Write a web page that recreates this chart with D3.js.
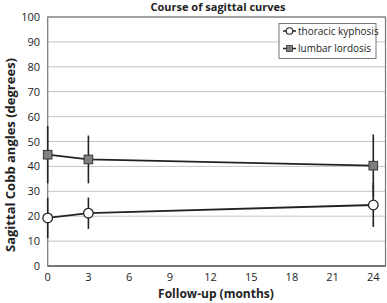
<!DOCTYPE html>
<html>
<head>
<meta charset="utf-8">
<script src="https://cdn.jsdelivr.net/npm/d3@7"></script>
<style>
body{margin:0;background:#fff;}
text{font-family:"Open Sans",sans-serif;fill:#222;}
</style>
</head>
<body>
<script>
// values
const months=[0,3,24];
const kyphosis=[19.3,21.2,24.5];
const kyphosisSd=[8.1,6.3,8.8];
const lordosis=[44.7,42.8,40.3];
const lordosisSd=[11.5,9.6,12.5];
const xTicks=[0,3,6,9,12,15,18,21,24];
const yTicks=[0,10,20,30,40,50,60,70,80,90,100];

const width=387,height=303;
const svg=d3.select('body').append('svg').attr('width',width).attr('height',height);

const x=d3.scaleLinear().domain([0,24.9]).range([47.7,385.5]);
const y=d3.scaleLinear().domain([0,100]).range([266,17]);

// grid
svg.append('g').selectAll('line').data(yTicks.filter(d=>d>0)).enter().append('line')
    .attr('x1',x(0)).attr('x2',x(24.9))
    .attr('y1',d=>y(d)).attr('y2',d=>y(d))
    .attr('stroke','#c4c4c4').attr('stroke-width',1);

// frame
svg.append('rect').attr('x',x(0)).attr('y',y(100))
    .attr('width',x(24.9)-x(0)).attr('height',y(0)-y(100))
    .attr('fill','none').attr('stroke','#777').attr('stroke-width',1.2);
svg.append('line').attr('x1',x(0)).attr('x2',x(24.9)).attr('y1',y(0)).attr('y2',y(0))
    .attr('stroke','#666').attr('stroke-width',1.3);

// tick labels
svg.append('g').selectAll('text').data(yTicks).enter().append('text')
    .attr('x',40).attr('y',d=>y(d)+4).attr('text-anchor','end')
    .style('font-size','11px').text(d=>d);
svg.append('g').selectAll('text').data(xTicks).enter().append('text')
    .attr('x',d=>x(d)).attr('y',281).attr('text-anchor','middle')
    .style('font-size','11px').text(d=>d);

// labels
svg.append('text').attr('x',218).attr('y',11).attr('text-anchor','middle')
    .style('font-size','11px').style('font-weight','bold').text('Course of sagittal curves');
svg.append('text').attr('x',216).attr('y',298).attr('text-anchor','middle')
    .style('font-size','12px').style('font-weight','bold').text('Follow-up (months)');
svg.append('text').attr('transform','translate(15,155) rotate(-90)').attr('text-anchor','middle')
    .style('font-size','13px').style('font-weight','bold').text('Sagittal Cobb angles  (degrees)');

const line=d3.line().x(d=>x(d[0])).y(d=>y(d[1]));
function drawSeries(vals,sd,marker){
    const pts=months.map((m,i)=>[m,vals[i],sd[i]]);
    const g=svg.append('g');
    g.selectAll('line.err').data(pts).enter().append('line')
        .attr('x1',d=>x(d[0])).attr('x2',d=>x(d[0]))
        .attr('y1',d=>y(d[1]+d[2])).attr('y2',d=>y(d[1]-d[2]))
        .attr('stroke','#222').attr('stroke-width',1.6);
    g.append('path').attr('d',line(pts)).attr('fill','none')
        .attr('stroke','#222').attr('stroke-width',1.8);
    if(marker==='circle'){
        g.selectAll('circle').data(pts).enter().append('circle')
            .attr('cx',d=>x(d[0])).attr('cy',d=>y(d[1])).attr('r',4.8)
            .attr('fill','#fff').attr('stroke','#222').attr('stroke-width',1.3);
    }else{
        g.selectAll('rect').data(pts).enter().append('rect')
            .attr('x',d=>x(d[0])-4.3).attr('y',d=>y(d[1])-4.3)
            .attr('width',8.6).attr('height',8.6)
            .attr('fill','#808080').attr('stroke','#333').attr('stroke-width',1);
    }
}
drawSeries(kyphosis,kyphosisSd,'circle');
drawSeries(lordosis,lordosisSd,'square');

// legend
const lg=svg.append('g');
lg.append('rect').attr('x',279).attr('y',23.5).attr('width',97).attr('height',35)
    .attr('fill','#fff').attr('stroke','#777').attr('stroke-width',1);
[['thoracic kyphosis','circle',31],['lumbar lordosis','square',48.5]].forEach(([name,m,ly])=>{
    lg.append('line').attr('x1',283).attr('x2',296).attr('y1',ly).attr('y2',ly)
        .attr('stroke','#222').attr('stroke-width',1.5);
    if(m==='circle'){
        lg.append('circle').attr('cx',289.5).attr('cy',ly).attr('r',3.3)
            .attr('fill','#fff').attr('stroke','#222').attr('stroke-width',1.1);
    }else{
        lg.append('rect').attr('x',286.5).attr('y',ly-3).attr('width',6).attr('height',6)
            .attr('fill','#808080').attr('stroke','#333').attr('stroke-width',0.8);
    }
    lg.append('text').attr('x',298).attr('y',ly+3.5).style('font-size','10px').text(name);
});
</script>
</body>
</html>
